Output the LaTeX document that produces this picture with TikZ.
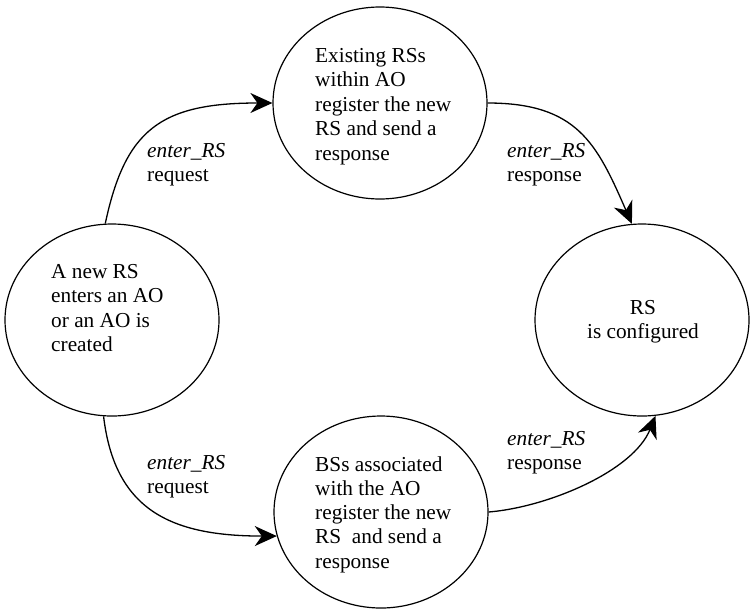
\documentclass[tikz,border=0pt]{standalone}
\usepackage{fontspec}
\setmainfont{Liberation Serif}
\usetikzlibrary{shapes.geometric,arrows.meta}
\begin{document}
\begin{tikzpicture}[x=1pt,y=-1pt,
  ell/.style={draw,ellipse,line width=1.2pt,minimum width=214pt,minimum height=192pt,inner sep=0pt},
  txt/.style={inner sep=0pt,font=\fontsize{21.3}{24.5}\selectfont},
  conn/.style={line width=1.3pt,-{Stealth[length=22pt,width=20pt,inset=7pt]}}]
\useasboundingbox (0,0) rectangle (751,611);
\node[ell] (L) at (112,320) {};
\node[ell] (T) at (380,103) {};
\node[ell] (R) at (642,320) {};
\node[ell] (B) at (381,512) {};
\node[txt,anchor=base west] (Lt) at (51,278) {\vtop{\baselineskip=24.5pt\hbox{A new RS}\hbox{enters an AO}\hbox{or an AO is}\hbox{created}}};
\node[txt,anchor=base west] (Tt) at (315,62) {\vtop{\baselineskip=24.5pt\hbox{Existing RSs}\hbox{within AO}\hbox{register the new}\hbox{RS and send a}\hbox{response}}};
\node[txt,anchor=base west] (Bt) at (315,471) {\vtop{\baselineskip=24.3pt\hbox{BSs associated}\hbox{with the AO}\hbox{register the new}\hbox{RS~ and send a}\hbox{response}}};
\node[txt,anchor=base] (Rt) at (643,314) {\vtop{\baselineskip=24.5pt\hbox to 0pt{\hss RS\hss}\hbox to 0pt{\hss is configured\hss}}};
\node[txt,anchor=base west] (l1) at (147,157) {\vtop{\baselineskip=24.5pt\hbox{\textit{enter\_RS}}\hbox{request}}};
\node[txt,anchor=base west] (l2) at (507,157) {\vtop{\baselineskip=24.5pt\hbox{\textit{enter\_RS}}\hbox{response}}};
\node[txt,anchor=base west] (l3) at (147,469) {\vtop{\baselineskip=24.5pt\hbox{\textit{enter\_RS}}\hbox{request}}};
\node[txt,anchor=base west] (l4) at (507,445) {\vtop{\baselineskip=24.5pt\hbox{\textit{enter\_RS}}\hbox{response}}};
\draw[conn] (L.94) .. controls +(20,-94) and +(-112,0) .. (T.180);
\draw[conn] (T.0) .. controls +(90,0) and +(-35,-80) .. (R.96);
\draw[conn] (L.265) .. controls +(11,93) and +(-107,0) .. (B.193);
\draw[conn] (B.0) .. controls +(60,-5) and +(-22,55) .. (R.278);
\end{tikzpicture}
\end{document}
